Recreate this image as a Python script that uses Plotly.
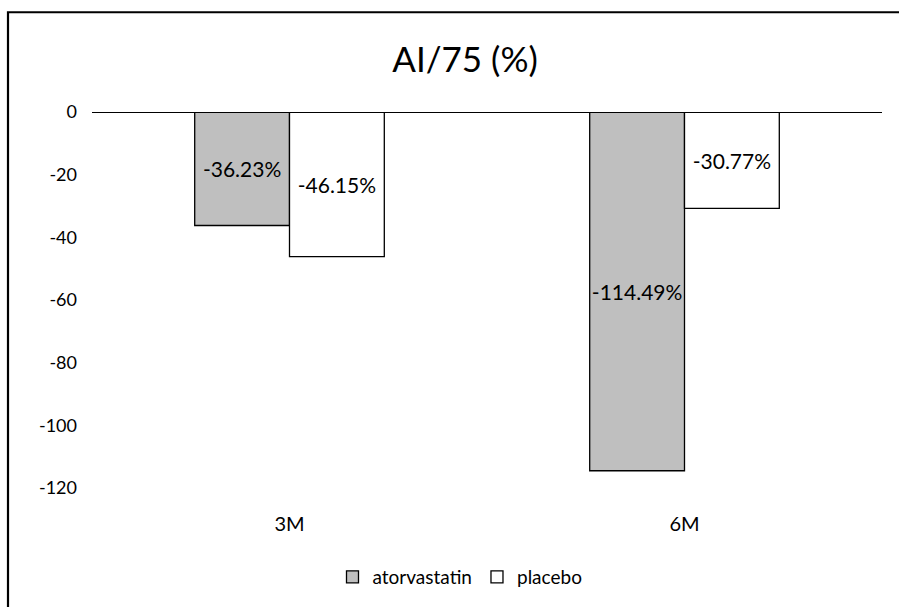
import plotly.graph_objects as go

# Change in AI/75 from baseline, per visit
visits = ["3M", "6M"]
atorvastatin = [-36.23, -114.49]
placebo = [-46.15, -30.77]
y_ticks = [0, -20, -40, -60, -80, -100, -120]
y_tick_text = [str(v) for v in y_ticks]  # plain hyphen-minus labels

FONT = "Lato"

def pct_labels(values):
    return [f"{v:.2f}%" for v in values]

def bar_trace(name, values, fill):
    return go.Bar(
        name=name, x=visits, y=values,
        marker=dict(color=fill, line=dict(color="black", width=1.3)),
        text=pct_labels(values), textposition="inside",
        insidetextanchor="middle", constraintext="none", textangle=0,
        textfont=dict(family=FONT, size=21, color="black"),
    )

fig = go.Figure()
fig.add_trace(bar_trace("atorvastatin", atorvastatin, "#bfbfbf"))
fig.add_trace(bar_trace("placebo", placebo, "white"))

W, H = 899, 607
L, R, T, B = 92, 17, 112, 118
PW, PH = W - L - R, H - T - B

fig.update_layout(
    width=W, height=H,
    margin=dict(l=L, r=R, t=T, b=B),
    paper_bgcolor="white", plot_bgcolor="white",
    font=dict(family=FONT, size=18, color="black"),
    barmode="group", bargap=0.52, bargroupgap=0,
    showlegend=True,
    legend=dict(orientation="h", x=(460 - L) / PW, xanchor="center",
                y=-(577 - (H - B)) / PH, yanchor="middle",
                font=dict(family=FONT, size=19),
                itemwidth=30, tracegroupgap=0),
    title=dict(text="AI/75 (%)", x=465 / W, xanchor="center",
               y=1 - 60 / H, yanchor="middle",
               font=dict(family=FONT, size=35, color="black")),
    xaxis=dict(showline=False, showgrid=False, ticks="",
               tickfont=dict(size=20), ticklabelstandoff=22),
    yaxis=dict(range=[-120, 0], tickvals=y_ticks, ticktext=y_tick_text,
               showgrid=False, showline=False, zeroline=False, ticks="",
               tickfont=dict(size=18), ticklabelstandoff=14),
    shapes=[
        # horizontal axis line at zero
        dict(type="line", xref="paper", yref="y", x0=0, x1=1, y0=0, y1=0,
             line=dict(color="black", width=2.2), layer="above"),
        # chart-area border
        dict(type="rect", xref="paper", yref="paper",
             x0=(8 - L) / PW, x1=(W + 10 - L) / PW,
             y0=-(B + 10) / PH, y1=1 + (T - 12) / PH,
             line=dict(color="black", width=2.2), layer="above"),
    ],
)

fig.write_html("out.html")
